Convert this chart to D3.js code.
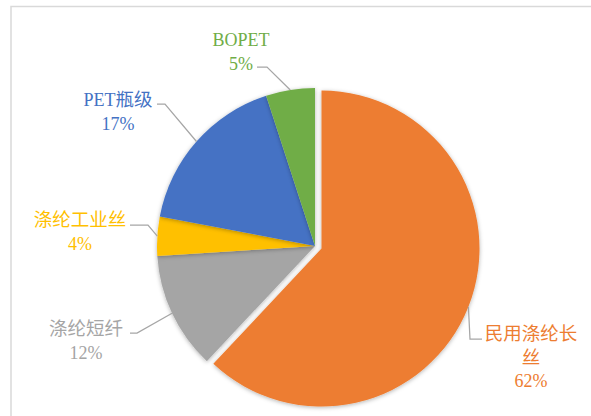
<!DOCTYPE html>
<html>
<head>
<meta charset="utf-8">
<script src="https://cdn.jsdelivr.net/npm/d3@7"></script>
<style>
  body { margin: 0; background: #fff; }
  svg { display: block; }
  .label { font-family: 'Liberation Serif', 'Times New Roman', serif; font-size: 18px; }
  .cjk { font-family: 'Noto Sans CJK SC', sans-serif; font-size: 18.5px; }
</style>
</head>
<body>
<svg id="chart" width="591" height="416"></svg>
<script>
// slices, clockwise from 12 o'clock
const categories = ['民用涤纶长丝', '涤纶短纤', '涤纶工业丝', 'PET瓶级', 'BOPET'];
const shares = [62, 12, 4, 17, 5];
const labelLines = [['民用涤纶长', '丝'], ['涤纶短纤'], ['涤纶工业丝'], ['PET瓶级'], ['BOPET']];
const colors = ['#ED7D31', '#A5A5A5', '#FFC000', '#4472C4', '#70AD47'];

// label layout, offsets from pie centre: text anchor, leader elbow, leader tail
const labelLayout = [
  { text: [216, 94], elbow: [155, 93], tail: [167, 93] },
  { text: [-229, 89], elbow: [-178, 87], tail: [-185, 87] },
  { text: [-235, -20], elbow: [-167, -21], tail: [-185, -21] },
  { text: [-197, -140], elbow: [-150, -142], tail: [-158, -142] },
  { text: [-74, -200], elbow: [-48, -179], tail: [-58, -179] },
];

const cx = 315;
const cy = 246;
const radius = 158;
const explode = 7;

const svg = d3.select('#chart');

// chart frame
svg.append('rect')
  .attr('x', 11)
  .attr('y', 6.5)
  .attr('width', 620)
  .attr('height', 440)
  .attr('fill', 'none')
  .attr('stroke', '#d9d9d9')
  .attr('stroke-width', 1.5);

const defs = svg.append('defs');
defs.append('filter')
  .attr('id', 'shadow')
  .attr('x', '-20%').attr('y', '-20%')
  .attr('width', '140%').attr('height', '140%')
  .append('feDropShadow')
  .attr('dx', 0)
  .attr('dy', 1)
  .attr('stdDeviation', 2)
  .attr('flood-color', '#000')
  .attr('flood-opacity', 0.3);

const data = categories.map((c, i) => ({ name: c, value: shares[i], index: i }));

const pie = d3.pie()
  .sort(null)
  .value((d) => d.value);

const arc = d3.arc()
  .innerRadius(0)
  .outerRadius(radius);

const arcs = pie(data);

const midAngle = (d) => (d.startAngle + d.endAngle) / 2;
const offset = (d) => {
  if (d.index !== 0) return [0, 0];
  const a = midAngle(d);
  return [Math.sin(a) * explode, -Math.cos(a) * explode];
};

const g = svg.append('g')
  .attr('transform', `translate(${cx},${cy})`);

g.selectAll('path.slice')
  .data(arcs)
  .join('path')
  .attr('class', 'slice')
  .attr('d', arc)
  .attr('transform', (d) => `translate(${offset(d)})`)
  .attr('fill', (d) => colors[d.index])
  .attr('filter', 'url(#shadow)');

// leader lines
const line = d3.line();
g.selectAll('path.leader')
  .data(arcs)
  .join('path')
  .attr('class', 'leader')
  .attr('d', (d) => {
    const a = midAngle(d);
    const o = offset(d);
    const start = [o[0] + Math.sin(a) * radius, o[1] - Math.cos(a) * radius];
    const l = labelLayout[d.index];
    return line([start, l.elbow, l.tail]);
  })
  .attr('fill', 'none')
  .attr('stroke', '#A6A6A6')
  .attr('stroke-width', 1.25);

// labels: latin runs in serif, han runs in CJK sans
const hanRe = /([\u4e00-\u9fff]+)/;
const labels = g.selectAll('text.label')
  .data(arcs)
  .join('text')
  .attr('class', 'label')
  .attr('x', (d) => labelLayout[d.index].text[0])
  .attr('y', (d) => labelLayout[d.index].text[1])
  .attr('text-anchor', 'middle')
  .attr('fill', (d) => colors[d.index]);

labels.each(function (d) {
  const t = d3.select(this);
  const x = labelLayout[d.index].text[0];
  const lines = labelLines[d.index].concat([`${d.data.value}%`]);
  lines.forEach((s, i) => {
    const parts = s.split(hanRe).filter((p) => p.length);
    parts.forEach((p, j) => {
      const ts = t.append('tspan')
        .attr('class', hanRe.test(p) ? 'cjk' : null)
        .text(p);
      if (j === 0) ts.attr('x', x).attr('dy', i === 0 ? 0 : 23.5);
    });
  });
});
</script>
</body>
</html>
